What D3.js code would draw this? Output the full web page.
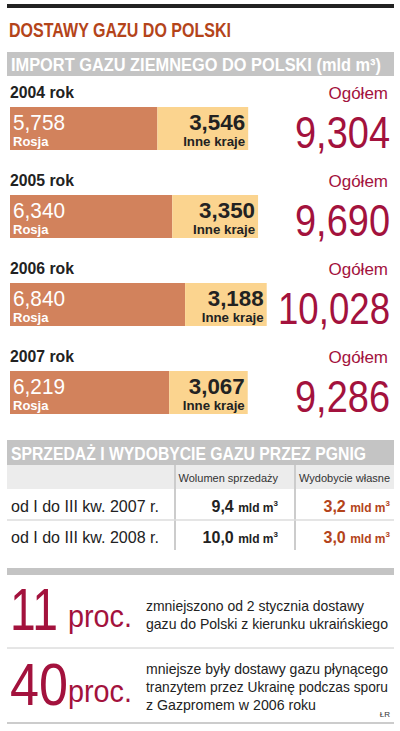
<!DOCTYPE html>
<html><head><meta charset="utf-8">
<script src="https://cdn.jsdelivr.net/npm/d3@7"></script>
<style>
body{margin:0;background:#fff}
text{font-family:"Liberation Sans",Arial,sans-serif}
</style></head>
<body><svg id="chart" width="400" height="731"></svg>
<script>
// dane
var years = ["2004 rok", "2005 rok", "2006 rok", "2007 rok"];
var rosja = [5.758, 6.340, 6.840, 6.219];
var inne = [3.546, 3.350, 3.188, 3.067];
var ogolem = [9.304, 9.690, 10.028, 9.286];
var tableRows = ["od I do III kw. 2007 r.", "od I do III kw. 2008 r."];
var sprzedaz = [9.4, 10.0];
var wydobycie = [3.2, 3.0];

var fmt3 = function (v) { return d3.format(".3f")(v).replace(".", ","); };
var fmt1 = function (v) { return d3.format(".1f")(v).replace(".", ","); };
var red = "#a3123d", brown = "#b4441a";

var svg = d3.select("#chart");
var x = d3.scaleLinear().domain([0, 10]).range([10, 266]);

// ściska tekst do zadanej szerokości
function fit(t, w) {
    return t.attr("textLength", w).attr("lengthAdjust", "spacingAndGlyphs");
}

svg.append("rect").attr("x", 7).attr("y", 4).attr("width", 387).attr("height", 4).attr("fill", "#222");
fit(svg.append("text").attr("x", 9).attr("y", 37).attr("fill", brown)
    .attr("font-size", 20).attr("font-weight", "bold").text("DOSTAWY GAZU DO POLSKI"), 222);
svg.append("rect").attr("x", 7).attr("y", 52).attr("width", 387).attr("height", 24).attr("fill", "#c4c4c4");
fit(svg.append("text").attr("x", 11).attr("y", 71).attr("fill", "#fff")
    .attr("font-size", 18).attr("font-weight", "bold").text("IMPORT GAZU ZIEMNEGO DO POLSKI (mld m³)"), 370);

//bloki lat
years.forEach(function (y, i) {
    var top = 80 + i * 88;
    var g = svg.append("g").attr("transform", "translate(0," + top + ")");
    fit(g.append("text").attr("x", 10).attr("y", 18).attr("font-size", 16).attr("font-weight", "bold").attr("fill", "#222").text(y), 64);
    g.append("rect").attr("x", x(0)).attr("y", 27).attr("width", x(rosja[i]) - x(0)).attr("height", 43).attr("fill", "#d2825c");
    g.append("rect").attr("x", x(rosja[i])).attr("y", 27).attr("width", x(rosja[i] + inne[i]) - x(rosja[i])).attr("height", 43).attr("fill", "#fbd48f");
    fit(g.append("text").attr("x", 13).attr("y", 50).attr("font-size", 22).attr("fill", "#fff").text(fmt3(rosja[i])), 52);
    g.append("text").attr("x", 13).attr("y", 66).attr("font-size", 13).attr("font-weight", "bold").attr("fill", "#fff").text("Rosja");
    var xe = x(rosja[i] + inne[i]) - 3;
    fit(g.append("text").attr("x", xe).attr("y", 50).attr("text-anchor", "end").attr("font-size", 22).attr("font-weight", "bold").attr("fill", "#222").text(fmt3(inne[i])), 56);
    fit(g.append("text").attr("x", xe).attr("y", 66).attr("text-anchor", "end").attr("font-size", 13).attr("font-weight", "bold").attr("fill", "#222").text("Inne kraje"), 62);
    g.append("text").attr("x", 388).attr("y", 19).attr("text-anchor", "end").attr("font-size", 17).attr("fill", red).text("Ogółem");
    fit(g.append("text").attr("x", 390).attr("y", 68).attr("text-anchor", "end").attr("font-size", 44).attr("fill", red)
        .text(fmt3(ogolem[i])), ogolem[i] >= 10 ? 112 : 95);
});

// tabela PGNIG
svg.append("rect").attr("x", 7).attr("y", 440).attr("width", 387).attr("height", 25).attr("fill", "#c4c4c4");
fit(svg.append("text").attr("x", 11).attr("y", 460).attr("fill", "#fff").attr("font-size", 18).attr("font-weight", "bold")
    .text("SPRZEDAŻ I WYDOBYCIE GAZU PRZEZ PGNIG"), 355);
svg.append("rect").attr("x", 7).attr("y", 465).attr("width", 387).attr("height", 24).attr("fill", "#ececec");
svg.append("text").attr("x", 278).attr("y", 482).attr("text-anchor", "end").attr("font-size", 11).attr("fill", "#333").text("Wolumen sprzedaży");
svg.append("text").attr("x", 390).attr("y", 482).attr("text-anchor", "end").attr("font-size", 11).attr("fill", "#333").text("Wydobycie własne");
[175, 295].forEach(function (cx) {
    svg.append("line").attr("x1", cx).attr("x2", cx).attr("y1", 465).attr("y2", 550).attr("stroke", "#ccc").attr("stroke-width", 2);
});
svg.append("line").attr("x1", 7).attr("x2", 394).attr("y1", 520).attr("y2", 520).attr("stroke", "#ddd").attr("stroke-width", 1.5);
tableRows.forEach(function (r, i) {
    var by = 512 + i * 31;
    fit(svg.append("text").attr("x", 11).attr("y", by).attr("font-size", 16).attr("fill", "#222").text(r), 148);
    var t1 = svg.append("text").attr("x", 278).attr("y", by).attr("text-anchor", "end").attr("font-weight", "bold").attr("fill", "#222");
    t1.append("tspan").attr("font-size", 16).text(fmt1(sprzedaz[i]) + " ");
    t1.append("tspan").attr("font-size", 12).text("mld m");
    t1.append("tspan").attr("font-size", 8).attr("dy", -6).text("3");
    var t2 = svg.append("text").attr("x", 390).attr("y", by).attr("text-anchor", "end").attr("font-weight", "bold").attr("fill", brown);
    t2.append("tspan").attr("font-size", 16).text(fmt1(wydobycie[i]) + " ");
    t2.append("tspan").attr("font-size", 12).text("mld m");
    t2.append("tspan").attr("font-size", 8).attr("dy", -6).text("3");
});

// dolne fakty
svg.append("rect").attr("x", 7).attr("y", 568).attr("width", 387).attr("height", 7).attr("fill", "#c4c4c4");
var facts = [
    {big: "11", lines: ["zmniejszono od 2 stycznia dostawy", "gazu  do Polski z kierunku ukraińskiego"], y: 630, ty: 611, w: [218, 242]},
    {big: "40", lines: ["mniejsze były dostawy gazu płynącego", "tranzytem przez Ukrainę podczas sporu", "z Gazpromem  w 2006 roku"], y: 705, ty: 674, w: [242, 242, 170]}
];
facts.forEach(function (f) {
    fit(svg.append("text").attr("x", 10).attr("y", f.y).attr("font-size", 60).attr("fill", red).text(f.big), f.big == "11" ? 48 : 58);
    fit(svg.append("text").attr("x", 68).attr("y", f.y - 3).attr("font-size", 32).attr("fill", red).text("proc."), 64);
    f.lines.forEach(function (l, j) {
        fit(svg.append("text").attr("x", 146).attr("y", f.ty + j * 18).attr("font-size", 15).attr("fill", "#222").text(l), f.w[j]);
    });
});
svg.append("line").attr("x1", 7).attr("x2", 394).attr("y1", 648).attr("y2", 648).attr("stroke", "#ccc");
svg.append("line").attr("x1", 7).attr("x2", 394).attr("y1", 723).attr("y2", 723).attr("stroke", "#999");
svg.append("text").attr("x", 390).attr("y", 717).attr("text-anchor", "end").attr("font-size", 8).attr("fill", "#333").text("ŁR");
</script></body></html>
